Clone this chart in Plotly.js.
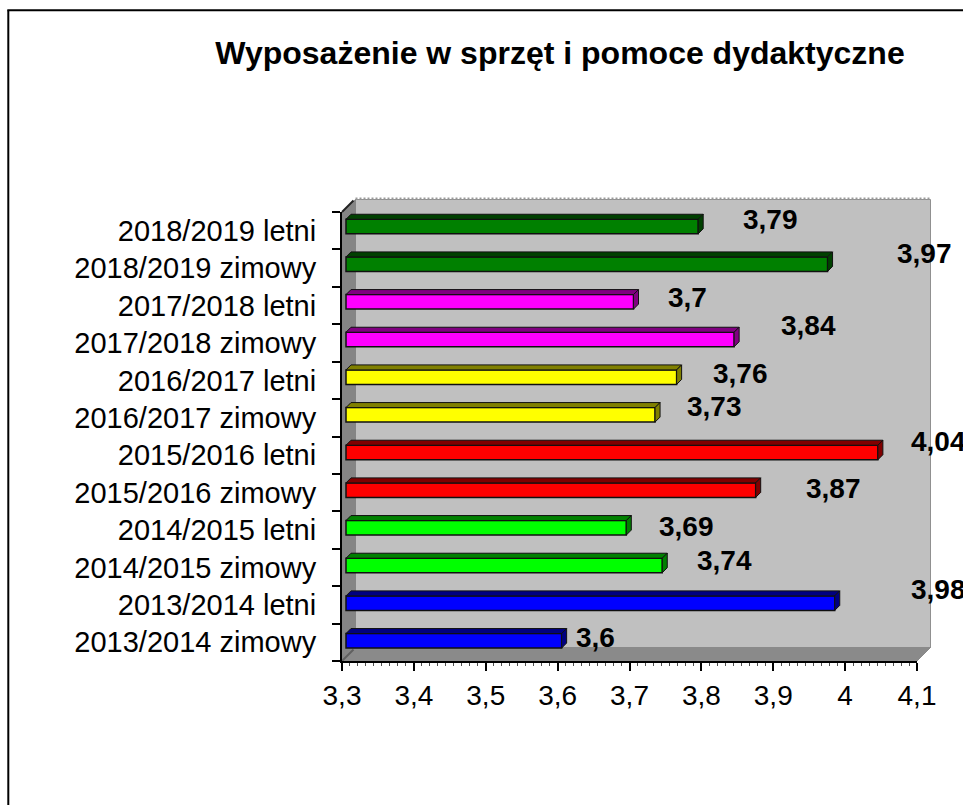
<!DOCTYPE html>
<html><head><meta charset="utf-8">
<script src="https://cdn.plot.ly/plotly-3.0.1.min.js"></script>
<style>html,body{margin:0;padding:0;background:#fff;overflow:hidden}</style>
</head><body><div id="c" style="width:963px;height:805px"></div>
<script>
const categories = ["2013/2014 zimowy","2013/2014 letni","2014/2015 zimowy","2014/2015 letni","2015/2016 zimowy","2015/2016 letni","2016/2017 zimowy","2016/2017 letni","2017/2018 zimowy","2017/2018 letni","2018/2019 zimowy","2018/2019 letni"];
const values = [3.6,3.98,3.74,3.69,3.87,4.04,3.73,3.76,3.84,3.7,3.97,3.79];
const labels = ["3,6","3,98","3,74","3,69","3,87","4,04","3,73","3,76","3,84","3,7","3,97","3,79"];
const faceColors = ["#0000FF","#0000FF","#00FF00","#00FF00","#FF0000","#FF0000","#FFFF00","#FFFF00","#FF00FF","#FF00FF","#008000","#008000"];
const darkColors = ["#000080","#000080","#008000","#008000","#800000","#800000","#808000","#808000","#800080","#800080","#004000","#004000"];
const labelShiftX = [38,107.5,66,64,81.6,64.4,63,67.7,78,58,100.7,76];
const labelShiftY = [5,15.6,7,4,4,14,11.5,7,17.7,8,15,11.4];
const xTickVals = [3.3,3.4,3.5,3.6,3.7,3.8,3.9,4,4.1];
const xTickText = ["3,3","3,4","3,5","3,6","3,7","3,8","3,9","4","4,1"];

const W=963,H=805,L=341.7,R=916.7,T=211.7,B=660.7;
const xMin=3.3,xMax=4.1,n=categories.length;
const pxPerX=(R-L)/(xMax-xMin), pxPerY=(B-T)/n;
const dX=p=>p/pxPerX, dY=p=>p/pxPerY;
const fx=p=>(p-L)/(R-L), fy=p=>(B-p)/(B-T);
const FONT='"Liberation Sans", Arial, sans-serif';

function poly(pts,fill,lineColor,lw,layer){
  return {type:'path',xref:'paper',yref:'paper',layer:layer||'below',
    path:'M'+pts.map(p=>fx(p[0])+','+fy(p[1])).join(' L')+' Z',
    fillcolor:fill,line:{color:lineColor||fill,width:lw===undefined?1:lw}};
}
function seg(x0,y0,x1,y1,color,width,dash,layer){
  return {type:'line',xref:'paper',yref:'paper',layer:layer||'above',
    x0:fx(x0),y0:fy(y0),x1:fx(x1),y1:fy(y1),line:{color,width,dash:dash||'solid'}};
}
const OFF=13.5;
const shapes=[
  poly([[L+OFF,T-OFF+1],[R+OFF,T-OFF+1],[R+OFF,B-OFF],[L+OFF,B-OFF]],'#C0C0C0','#909090',1),
  poly([[L,T],[L+OFF,T-OFF+1],[L+OFF,B-OFF],[L,B]],'#858585','#858585',1),
  poly([[L,B],[L+OFF,B-OFF],[R+OFF,B-OFF],[R,B]],'#8A8A8A','#8A8A8A',1),
  seg(L+OFF,T-OFF,R+OFF,T-OFF,'#9A9A9A',2,'2px,2px','below'),
  seg(L,T,L+OFF-2,T-OFF+2,'#222222',2,'solid','below'),
  seg(L,B,L+OFF-2,B-OFF+2,'#606060',2,'solid','below'),
  seg(8,10,8,H+2,'#000000',2),
  seg(7,10,W+2,10,'#000000',2)
];
// 3D faces of each bar, derived from its value
const frontDX=4, barH=14.5, depth=5;
const frontDYs=values.map((v,i)=>1.5+i*2.7/11);
values.forEach((v,i)=>{
  const x0=xMin+dX(frontDX), x1=v+dX(frontDX);
  const yTop=i+dY(frontDYs[i]+barH/2), yBot=i+dY(frontDYs[i]-barH/2);
  const ox=dX(depth), oy=dY(depth);
  const base={type:'path',xref:'x',yref:'y',layer:'above',fillcolor:darkColors[i],line:{color:'#101010',width:1}};
  shapes.push(Object.assign({},base,{path:`M${x0},${yTop} L${x0+ox},${yTop+oy} L${x1+ox},${yTop+oy} L${x1},${yTop} Z`}));
  shapes.push(Object.assign({},base,{path:`M${x1},${yTop} L${x1+ox},${yTop+oy} L${x1+ox},${yBot+oy} L${x1},${yBot} Z`}));
});
const barTrace={type:'bar',orientation:'h',
  y:categories.map((c,i)=>i),
  x:values.map(v=>v-xMin),
  base:xMin+dX(frontDX),
  width:dY(barH),
  offset:frontDYs.map(d=>dY(d-barH/2)),
  marker:{color:faceColors,line:{color:'#101010',width:1.5}},
  hoverinfo:'skip',showlegend:false};
const annotations=values.map((v,i)=>({x:v,y:i,text:labels[i],showarrow:false,
  xanchor:'center',yanchor:'middle',xshift:labelShiftX[i],yshift:labelShiftY[i],
  font:{family:FONT,size:28,color:'#000',weight:700}}));
const layout={width:W,height:H,paper_bgcolor:'#fff',plot_bgcolor:'rgba(0,0,0,0)',
  margin:{l:L,r:W-R,t:T,b:H-B,pad:0},
  title:{text:'Wyposażenie w sprzęt i pomoce dydaktyczne',x:560/W,xanchor:'center',y:1-53/H,yanchor:'middle',
    font:{family:FONT,size:32,color:'#000',weight:700}},
  xaxis:{range:[xMin,xMax],tickmode:'array',tickvals:xTickVals,ticktext:xTickText,showgrid:false,zeroline:false,
    showline:true,linecolor:'#000',linewidth:2,ticks:'outside',ticklen:8,tickwidth:2,tickcolor:'#000',
    tickfont:{family:FONT,size:28,color:'#000'},
    minor:{dtick:0.1/9,ticks:'outside',ticklen:3,tickwidth:1,tickcolor:'#505050',showgrid:false}},
  yaxis:{range:[-0.5,n-0.5],tickmode:'array',tickvals:categories.map((c,i)=>i),ticktext:categories,showgrid:false,zeroline:false,
    showline:true,linecolor:'#000',linewidth:2,ticks:'',ticklabelstandoff:18,
    tickfont:{family:FONT,size:29,color:'#000'},
    minor:{tickmode:'array',tickvals:Array.from({length:n+1},(_,i)=>i-0.5),ticks:'outside',ticklen:8,tickwidth:2,tickcolor:'#000',showgrid:false}},
  shapes,annotations,showlegend:false,hovermode:false};
Plotly.newPlot('c',[barTrace],layout,{displayModeBar:false,staticPlot:true});
</script></body></html>
